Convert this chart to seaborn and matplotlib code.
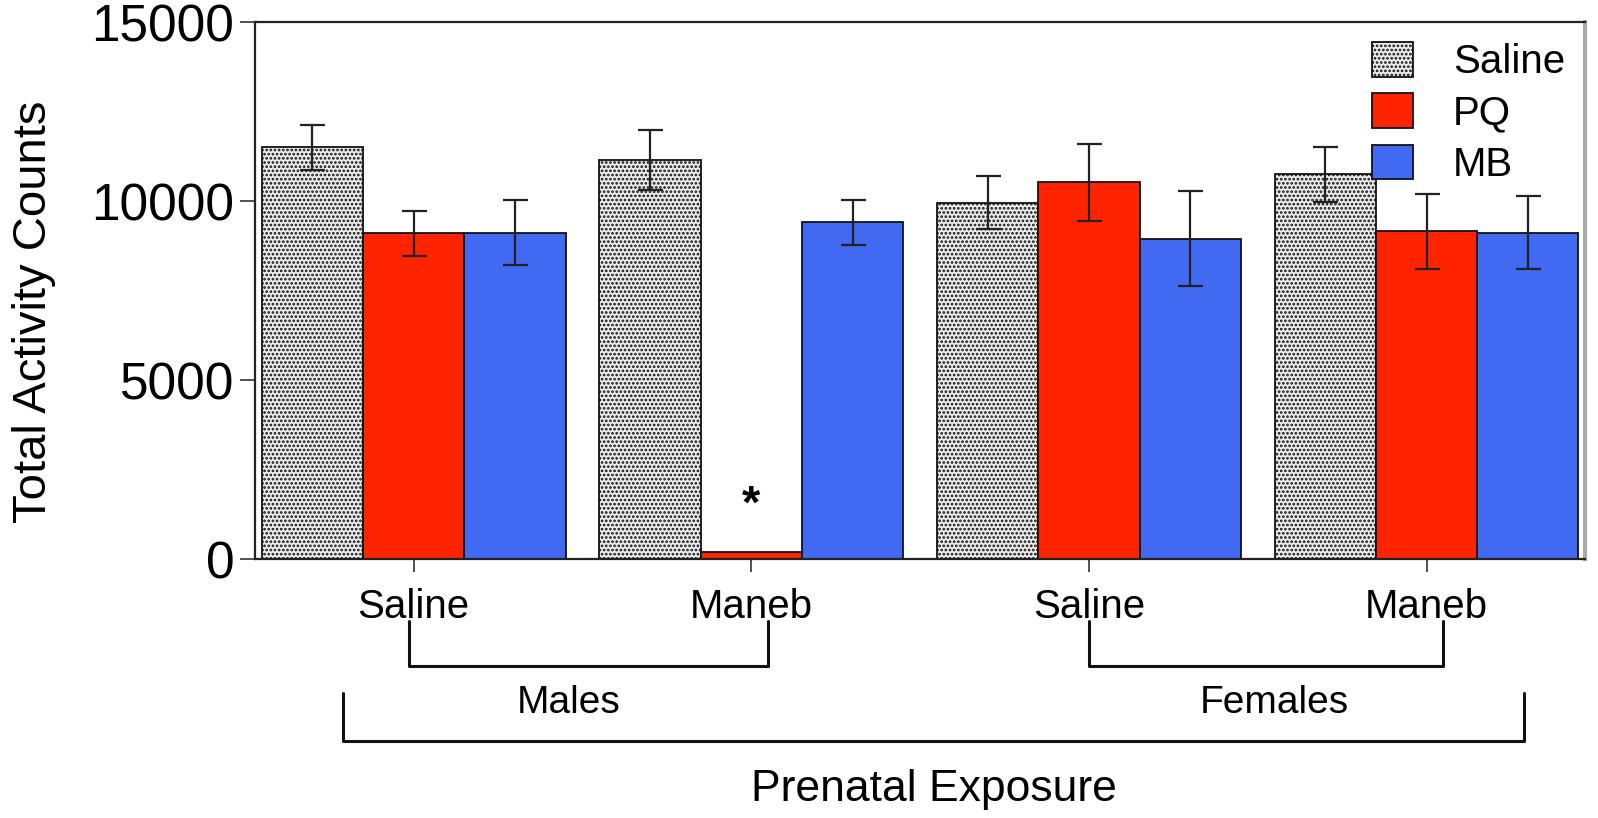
import numpy as np
import pandas as pd
import matplotlib
matplotlib.use("Agg")
import matplotlib.pyplot as plt
import matplotlib.transforms as mtransforms
import seaborn as sns

# ---- data ----
groups = ["Males-Saline", "Males-Maneb", "Females-Saline", "Females-Maneb"]
group_tick_labels = ["Saline", "Maneb", "Saline", "Maneb"]
treatments = ["Saline", "PQ", "MB"]
saline_means = [11500, 11150, 9950, 10750]
pq_means = [9100, 200, 10520, 9150]
mb_means = [9120, 9410, 8950, 9120]
saline_sem = [630, 830, 740, 770]
pq_sem = [630, 0, 1080, 1050]
mb_sem = [900, 630, 1330, 1030]
y_ticks = [0, 5000, 10000, 15000]
sex_labels = ["Males", "Females"]
x_title = "Prenatal Exposure"
y_title = "Total Activity Counts"

means = {"Saline": saline_means, "PQ": pq_means, "MB": mb_means}
sems = {"Saline": saline_sem, "PQ": pq_sem, "MB": mb_sem}
rows = []
for t in treatments:
    for g, m in zip(groups, means[t]):
        rows.append({"group": g, "treatment": t, "count": m})
df = pd.DataFrame(rows)

sns.set_theme(style="white")
plt.rcParams["font.family"] = ["Liberation Sans", "DejaVu Sans"]
plt.rcParams["hatch.linewidth"] = 1.3
plt.rcParams["text.color"] = "black"
plt.rcParams["xtick.color"] = "black"
plt.rcParams["ytick.color"] = "black"
plt.rcParams["axes.labelcolor"] = "black"

palette = {"Saline": "#ececec", "PQ": "#ff2400", "MB": "#4169f2"}

fig = plt.figure(figsize=(15.98, 8.18), dpi=100)
ax = fig.add_axes([0.1596, 0.3166, 0.8324, 0.6565])

sns.barplot(data=df, x="group", y="count", hue="treatment", order=groups,
            hue_order=treatments, palette=palette, width=0.9, saturation=1,
            edgecolor="#111111", linewidth=1.3, errorbar=None, ax=ax, legend=True)

# hatch on saline bars + error bars
for t, cont in zip(treatments, ax.containers):
    for bar, m, s in zip(cont, means[t], sems[t]):
        if t == "Saline":
            bar.set_hatch("....")
            try:
                bar.set_hatchcolor("#666666")
            except Exception:
                pass
        if s > 0:
            cx = bar.get_x() + bar.get_width() / 2
            ax.errorbar([cx], [m], yerr=[s], fmt="none", ecolor="#222222",
                        elinewidth=1.6, capsize=9, capthick=1.6, zorder=5)

# asterisk above Males-Maneb PQ bar
pq_bar = ax.containers[1][1]
ax.text(pq_bar.get_x() + pq_bar.get_width() / 2, 1500, "*", ha="center",
        va="center", fontsize=34, fontweight="bold", color="black")

ax.set_xlim(-0.47, 3.47)
ax.set_ylim(0, 15000)
ax.set_yticks(y_ticks)
ax.set_yticklabels([str(v) for v in y_ticks], fontsize=37)
ax.set_xticks(range(len(groups)))
ax.set_xticklabels(group_tick_labels, fontsize=29)
ax.set_xlabel("")
ax.set_ylabel(y_title, fontsize=34)
ax.yaxis.set_label_coords(-0.150, 0.46)
ax.tick_params(axis="y", direction="out", length=11, width=1.2, color="#333333", pad=4, left=True)
ax.tick_params(axis="x", direction="out", length=9, width=1.2, color="#333333", pad=12, bottom=True)

for side in ["left", "bottom", "top"]:
    ax.spines[side].set_color("#222222")
    ax.spines[side].set_linewidth(1.6)
ax.spines["right"].set_color("#aaaaaa")
ax.spines["right"].set_linewidth(3)

# legend
handles, labels = ax.get_legend_handles_labels()
for h, l in zip(handles, labels):
    if l == "Saline":
        h.set_hatch("....")
        try:
            h.set_hatchcolor("#666666")
        except Exception:
            pass
leg = ax.legend(handles, labels, loc="upper right", frameon=False, fontsize=29,
                handlelength=1.0, handleheight=0.95, handletextpad=1.0,
                labelspacing=0.3, bbox_to_anchor=(1.0, 1.0), borderaxespad=0.1)

# brackets below axis
trans = mtransforms.blended_transform_factory(ax.transData, ax.transAxes)
def bracket(x0, x1, ytop, ybot):
    ax.plot([x0, x0, x1, x1], [ytop, ybot, ybot, ytop], color="#111111",
            lw=2.2, transform=trans, clip_on=False)

bracket(-0.015, 1.05, -0.116, -0.2)
bracket(2.0, 3.05, -0.116, -0.2)
bracket(-0.21, 3.29, -0.25, -0.339)
ax.text(0.46, -0.268, sex_labels[0], transform=trans, ha="center", va="center", fontsize=28)
ax.text(2.55, -0.268, sex_labels[1], transform=trans, ha="center", va="center", fontsize=28)
ax.text(1.54, -0.43, x_title, transform=trans, ha="center", va="center", fontsize=32)

fig.savefig("out.png", dpi=100, facecolor="white")
